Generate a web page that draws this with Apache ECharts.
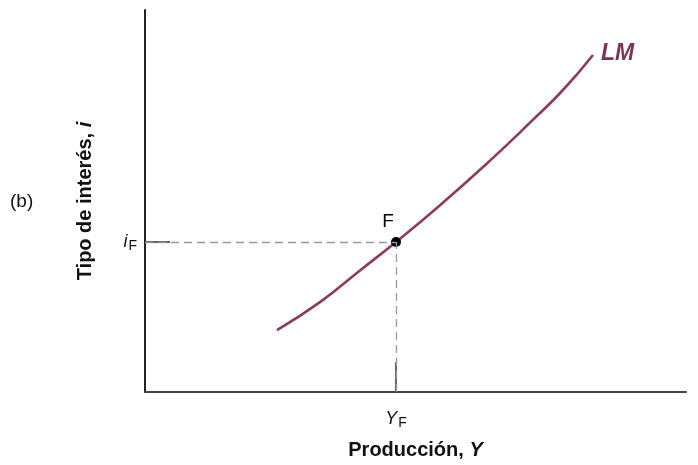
<!DOCTYPE html>
<html>
<head>
<meta charset="utf-8">
<script src="https://cdn.jsdelivr.net/npm/echarts@6/dist/echarts.min.js"></script>
<style>html,body{margin:0;padding:0;background:#fff;}#c{width:698px;height:465px;}</style>
</head>
<body>
<div id="c"></div>
<script>
// Curve LM (x: output Y, y: interest rate i), arbitrary units 0-100
var lmX = [24.40, 32.35, 39.74, 46.40, 54.53, 63.77, 71.16, 77.26, 82.81];
var lmY = [16.23, 23.52, 31.83, 39.27, 48.90, 60.57, 70.50, 79.06, 88.22];
var pointF = [46.4, 39.27];
var pointLabel = 'F';
var curveLabel = 'LM';
var xTickLabel = ['Y', 'F'];
var yTickLabel = ['i', 'F'];
var xAxisName = ['Producción, ', 'Y'];
var yAxisName = ['Tipo de interés, ', 'i'];
var panelLabel = '(b)';

var FONT = '"Liberation Sans", Arial, sans-serif';
var lmData = lmX.map(function (x, k) { return [x, lmY[k]]; });

var chart = echarts.init(document.getElementById('c'));
chart.setOption({
  animation: false,
  grid: { left: 145, right: 12, top: 10, bottom: 73 },
  xAxis: {
    type: 'value', min: 0, max: 100,
    splitLine: { show: false },
    axisLine: { lineStyle: { color: '#444', width: 2 } },
    axisTick: { show: true, inside: true, length: 30, customValues: [pointF[0]], lineStyle: { color: '#333', width: 1.5 } },
    axisLabel: {
      customValues: [pointF[0]], margin: 15,
      formatter: function () { return '{a|' + xTickLabel[0] + '}{s|' + xTickLabel[1] + '}'; },
      rich: {
        a: { fontFamily: FONT, fontSize: 18, fontStyle: 'italic', color: '#111' },
        s: { fontFamily: FONT, fontSize: 14, color: '#111', padding: [9, 0, 0, 1] }
      }
    },
    name: '{b|' + xAxisName[0] + '}{bi|' + xAxisName[1] + '}',
    nameLocation: 'middle', nameGap: 48, nameMoveOverlap: false,
    nameTextStyle: {
      rich: {
        b: { fontFamily: FONT, fontSize: 20, fontWeight: 'bold', color: '#111' },
        bi: { fontFamily: FONT, fontSize: 20, fontWeight: 'bold', fontStyle: 'italic', color: '#111' }
      }
    }
  },
  yAxis: {
    type: 'value', min: 0, max: 100,
    splitLine: { show: false },
    axisLine: { lineStyle: { color: '#222', width: 2 } },
    axisTick: { show: true, inside: true, length: 25, customValues: [pointF[1]], lineStyle: { color: '#333', width: 1.5 } },
    axisLabel: {
      customValues: [pointF[1]], margin: 8,
      formatter: function () { return '{a|' + yTickLabel[0] + '}{s|' + yTickLabel[1] + '}'; },
      rich: {
        a: { fontFamily: FONT, fontSize: 18, fontStyle: 'italic', color: '#111' },
        s: { fontFamily: FONT, fontSize: 14, color: '#111', padding: [9, 0, 0, 1] }
      }
    },
    name: '{b|' + yAxisName[0] + '}{bi|' + yAxisName[1] + '}',
    nameLocation: 'middle', nameGap: 50, nameRotate: 90, nameMoveOverlap: false,
    nameTextStyle: {
      rich: {
        b: { fontFamily: FONT, fontSize: 20, fontWeight: 'bold', color: '#111' },
        bi: { fontFamily: FONT, fontSize: 20, fontWeight: 'bold', fontStyle: 'italic', color: '#111' }
      }
    }
  },
  graphic: [{
    type: 'text', left: 10, top: 192,
    style: { text: panelLabel, fontFamily: FONT, fontSize: 19, fill: '#111' }
  }],
  series: [{
    type: 'line', data: lmData, smooth: 0.5, showSymbol: false, silent: true,
    lineStyle: { color: '#8a3c5e', width: 2.6 },
    endLabel: {
      show: true, formatter: curveLabel, offset: [0, -1],
      fontFamily: FONT, fontSize: 23, fontWeight: 'bold', fontStyle: 'italic', color: '#7b3558'
    },
    z: 3
  }, {
    type: 'scatter', data: [pointF], symbolSize: 10, silent: true,
    itemStyle: { color: '#000', opacity: 1 },
    label: { show: true, formatter: pointLabel, position: 'top', offset: [-8, -1],
      fontFamily: FONT, fontSize: 19, color: '#000' },
    markLine: {
      silent: true, symbol: 'none', label: { show: false },
      lineStyle: { color: '#999', type: [8, 5], width: 1.3 },
      data: [
        [{ coord: [0, pointF[1]] }, { coord: pointF }],
        [{ coord: [pointF[0], 0] }, { coord: pointF }]
      ]
    },
    z: 4
  }]
});
</script>
</body>
</html>
